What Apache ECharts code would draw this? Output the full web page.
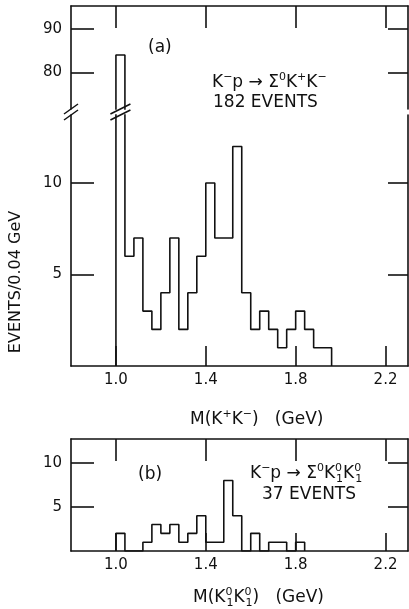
<!DOCTYPE html>
<html>
<head>
<meta charset="utf-8">
<script src="https://cdn.jsdelivr.net/npm/echarts@6/dist/echarts.min.js"></script>
<style>
html,body{margin:0;padding:0;background:#fff;}
#c{width:409px;height:609px;}
</style>
</head>
<body>
<div id="c"></div>
<script>
// ---- data ----
const binWidth = 0.04;
const binLeftA = [1.00,1.04,1.08,1.12,1.16,1.20,1.24,1.28,1.32,1.36,1.40,1.44,1.48,1.52,1.56,1.60,1.64,1.68,1.72,1.76,1.80,1.84,1.88,1.92];
const countsA  = [84,6,7,3,2,4,7,2,4,6,10,7,7,12,4,2,3,2,1,2,3,2,1,1];
const binLeftB = [1.00,1.04,1.08,1.12,1.16,1.20,1.24,1.28,1.32,1.36,1.40,1.44,1.48,1.52,1.56,1.60,1.64,1.68,1.72,1.76,1.80];
const countsB  = [2,0,0,1,3,2,3,1,2,4,1,1,8,4,0,2,0,1,1,0,1];
const xTickValues = [1.0,1.4,1.8,2.2];
const yTicksUpperA = [80,90];
const yTicksLowerA = [5,10];
const yTicksB = [5,10];

// ---- build ----
function stepPoints(lefts, counts){
  const pts = [[lefts[0],0]];
  lefts.forEach((l,i)=>{
    pts.push([l, counts[i]]);
    pts.push([+(l+binWidth).toFixed(2), counts[i]]);
  });
  pts.push([+(lefts[lefts.length-1]+binWidth).toFixed(2), 0]);
  return pts;
}
const ptsA = stepPoints(binLeftA, countsA);
const ptsB = stepPoints(binLeftB, countsB);

const INK = '#111';
const FONT = 'DejaVu Sans';
const X_MIN = 0.8, X_MAX = 2.3;
const UP_MIN = 71.52, UP_MAX = 95.31;
const LOW_MAX = 13.72;
const B_MAX = 12.7;

const lineSt = {color: INK, width: 1.6};
function xAx(grid, pos, labels, tickLen){
  return {
    type:'value', gridIndex:grid, position:pos, min:X_MIN, max:X_MAX,
    axisLine:{show:true, onZero:false, lineStyle:lineSt},
    axisTick:{show:true, inside:true, length:tickLen, customValues:xTickValues, lineStyle:lineSt},
    axisLabel:{show:labels, customValues:xTickValues, color:INK, fontFamily:FONT, fontSize:15, margin:7,
      formatter:v=>v.toFixed(1)},
    splitLine:{show:false}
  };
}
function yAx(grid, pos, min, max, ticks, labels, tickLen){
  return {
    type:'value', gridIndex:grid, position:pos, min:min, max:max,
    axisLine:{show:true, onZero:false, lineStyle:lineSt},
    axisTick:{show:true, inside:true, length:tickLen, customValues:ticks, lineStyle:lineSt},
    axisLabel:{show:labels, customValues:ticks, color:INK, fontFamily:FONT, fontSize:15, margin:9},
    splitLine:{show:false}
  };
}

const chart = echarts.init(document.getElementById('c'), null, {renderer:'canvas'});

const n = {fontSize:17, fontFamily:FONT, color:INK, lineHeight:22};
const sup = {fontSize:11, fontFamily:FONT, color:INK, verticalAlign:'top', lineHeight:5};
const sub = {fontSize:11, fontFamily:FONT, color:INK, verticalAlign:'bottom', lineHeight:5};
const supz = Object.assign({}, sup, {width:1});
const richAll = {n:n, sup:sup, sub:sub, supz:supz};

function txt(text, x, y, size, extra){
  return Object.assign({type:'text', x:x, y:y, silent:true, style:{text:text, fill:INK,
    font: size+'px "'+FONT+'"', rich:richAll, textVerticalAlign:'middle'}}, extra||{});
}

chart.setOption({
  backgroundColor:'#fff',
  animation:false,
  grid:[
    {left:71, top:6, width:337, height:103},
    {left:71, top:115, width:337, height:251},
    {left:71, top:439, width:337, height:112}
  ],
  xAxis:[
    xAx(0,'top',false,22),
    xAx(1,'bottom',true,20),
    xAx(2,'bottom',true,18),
    xAx(2,'top',false,22)
  ],
  yAxis:[
    yAx(0,'left',UP_MIN,UP_MAX,yTicksUpperA,true,23),
    yAx(0,'right',UP_MIN,UP_MAX,yTicksUpperA,false,20),
    yAx(1,'left',0,LOW_MAX,yTicksLowerA,true,23),
    yAx(1,'right',0,LOW_MAX,yTicksLowerA,false,20),
    yAx(2,'left',0,B_MAX,yTicksB,true,23),
    yAx(2,'right',0,B_MAX,yTicksB,false,20)
  ],
  series:[
    {type:'line', xAxisIndex:0, yAxisIndex:0, data:ptsA, symbol:'none', clip:true, lineStyle:lineSt, silent:true},
    {type:'line', xAxisIndex:1, yAxisIndex:2, data:ptsA, symbol:'none', clip:true, lineStyle:lineSt, silent:true},
    {type:'line', xAxisIndex:2, yAxisIndex:4, data:ptsB, symbol:'none', clip:true, lineStyle:lineSt, silent:true},
    {type:'custom', xAxisIndex:1, yAxisIndex:2, clip:false, silent:true,
      data:[[X_MIN, LOW_MAX, 7], [binLeftA[0]+binWidth/2, LOW_MAX, 10]],
      renderItem:function(params, api){
        const p = api.coord([api.value(0), api.value(1)]);
        const hw = api.value(2);
        const cy = p[1]-3;
        const mk = (dy)=>({type:'line', shape:{x1:p[0]-hw, y1:cy+dy+5, x2:p[0]+hw, y2:cy+dy-5},
          style:{stroke:INK, lineWidth:1.5}});
        return {type:'group', children:[mk(-3), mk(3)]};
      }
    }
  ],
  graphic:[
    txt('(a)', 148, 48, 17),
    txt('{n|K}{sup|−}{n|p → Σ}{sup|0}{n|K}{sup|+}{n|K}{sup|−}', 212, 83, 17),
    txt('182 EVENTS', 213, 103, 17),
    txt('{n|M(K}{sup|+}{n|K}{sup|−}{n|)   (GeV)}', 190, 420, 17),
    {type:'text', x:16, y:282, rotation:Math.PI/2, silent:true,
      style:{text:'EVENTS/0.04 GeV', fill:INK, font:'16px "'+FONT+'"', textAlign:'center', textVerticalAlign:'middle'}},
    txt('(b)', 138, 475, 17),
    txt('{n|K}{sup|−}{n|p → Σ}{sup|0}{n|K}{supz|0}{sub|1}{n|K}{supz|0}{sub|1}', 250, 474, 17),
    txt('37 EVENTS', 262, 495, 17),
    txt('{n|M(K}{supz|0}{sub|1}{n|K}{supz|0}{sub|1}{n|)   (GeV)}', 193, 598, 17)
  ]
});
</script>
</body>
</html>
